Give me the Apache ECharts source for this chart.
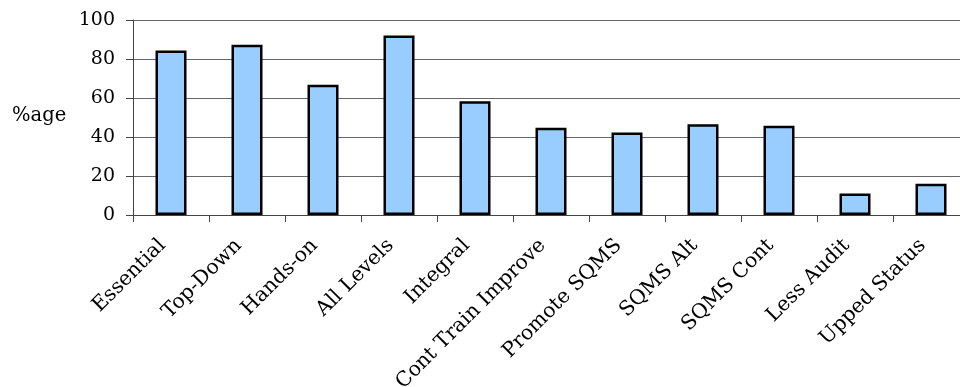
<!DOCTYPE html>
<html>
<head>
<meta charset="utf-8">
<script src="https://cdn.jsdelivr.net/npm/echarts@6/dist/echarts.min.js"></script>
<style>
  html, body { margin: 0; padding: 0; background: #fff; }
  #chart { width: 960px; height: 387px; }
</style>
</head>
<body>
<div id="chart"></div>
<script>
// Survey response shares per statement
const categories = ['Essential', 'Top-Down', 'Hands-on', 'All Levels', 'Integral',
  'Cont Train Improve', 'Promote SQMS', 'SQMS Alt', 'SQMS Cont', 'Less Audit', 'Upped Status'];
const percentages = [84.3, 87.3, 66.8, 92, 58.3, 44.8, 42.3, 46.5, 45.8, 11, 16];
const yTicks = [0, 20, 40, 60, 80, 100];

const font = '"DejaVu Serif", "Liberation Serif", serif';
const chart = echarts.init(document.getElementById('chart'), null, { renderer: 'canvas' });

chart.setOption({
  animation: false,
  backgroundColor: '#ffffff',
  grid: {
    left: 133, top: 20, width: 836, height: 195,
    containLabel: false,
    outerBoundsMode: 'none'
  },
  graphic: [{
    type: 'text',
    left: 12,
    top: 106,
    style: { text: '%age', font: '19.5px ' + font, fill: '#000' }
  }],
  xAxis: {
    type: 'category',
    data: categories,
    axisLine: { lineStyle: { color: '#444', width: 1 } },
    axisTick: { show: true, alignWithLabel: false, length: 7, lineStyle: { color: '#444' } },
    axisLabel: {
      rotate: 45,
      interval: 0,
      margin: 19,
      padding: [0, 12, 0, 0],
      color: '#000',
      fontFamily: font,
      fontSize: 20.3
    }
  },
  yAxis: {
    type: 'value',
    min: yTicks[0],
    max: yTicks[yTicks.length - 1],
    interval: 20,
    axisLine: { show: true, lineStyle: { color: '#444', width: 1 } },
    axisTick: { show: true, inside: false, length: 7, lineStyle: { color: '#444' } },
    axisLabel: { margin: 18, color: '#000', fontFamily: font, fontSize: 19 },
    splitLine: { show: true, lineStyle: { color: '#666', width: 1 } }
  },
  series: [{
    type: 'bar',
    data: percentages,
    barWidth: 31,
    itemStyle: { color: '#99CCFF', borderColor: '#000', borderWidth: 2.5 }
  }]
});
</script>
</body>
</html>
